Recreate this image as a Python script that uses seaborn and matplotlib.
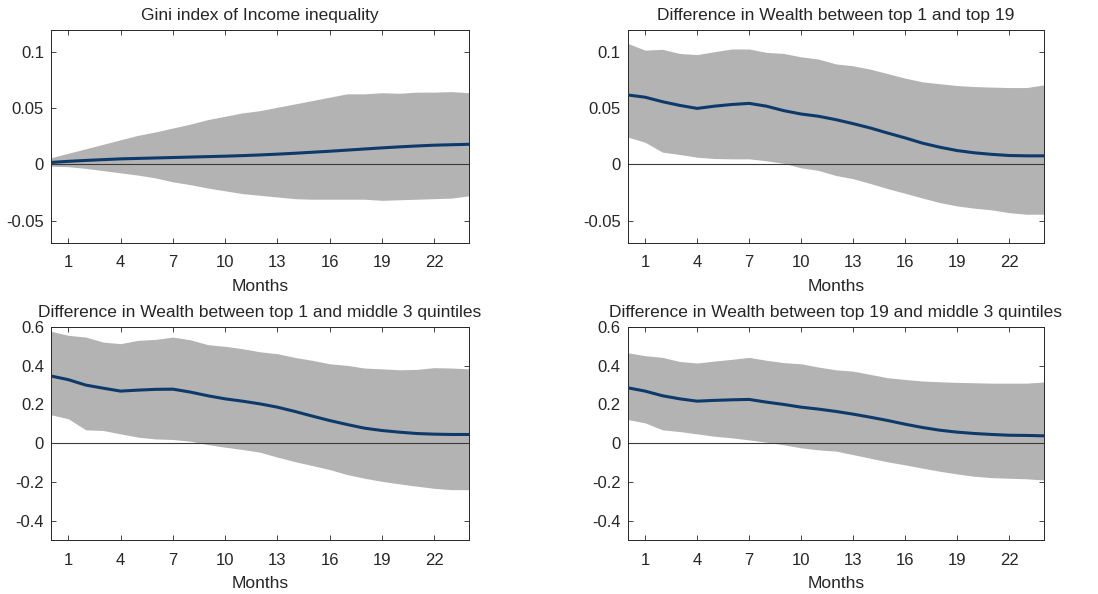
import numpy as np
import pandas as pd
import matplotlib
matplotlib.use("Agg")
import matplotlib.pyplot as plt
import seaborn as sns

# ==== data ====
months = list(range(0, 25))

gini_mean = [0.0018, 0.0028, 0.0036, 0.0043, 0.0050, 0.0054, 0.0058, 0.0062, 0.0066, 0.0070,
             0.0074, 0.0079, 0.0085, 0.0092, 0.0100, 0.0109, 0.0118, 0.0128, 0.0138, 0.0148,
             0.0157, 0.0165, 0.0172, 0.0176, 0.0180]
gini_up = [0.006, 0.010, 0.014, 0.018, 0.022, 0.026, 0.029, 0.0325, 0.036, 0.040,
           0.043, 0.046, 0.048, 0.051, 0.054, 0.057, 0.060, 0.063, 0.063, 0.064,
           0.0635, 0.0645, 0.0645, 0.065, 0.064]
gini_lo = [-0.0015, -0.002, -0.0035, -0.0055, -0.0075, -0.0095, -0.012, -0.0155, -0.018, -0.021,
           -0.0235, -0.026, -0.0275, -0.029, -0.0305, -0.031, -0.031, -0.031, -0.031, -0.032,
           -0.0315, -0.031, -0.0305, -0.030, -0.028]

t1t19_mean = [0.062, 0.060, 0.056, 0.0527, 0.050, 0.052, 0.0535, 0.0545, 0.052, 0.048,
              0.045, 0.043, 0.040, 0.0364, 0.0325, 0.028, 0.0237, 0.019, 0.0154, 0.0124,
              0.0104, 0.009, 0.008, 0.0077, 0.0077]
t1t19_up = [0.108, 0.102, 0.1027, 0.099, 0.098, 0.1006, 0.103, 0.103, 0.100, 0.099,
            0.096, 0.094, 0.0897, 0.088, 0.085, 0.081, 0.077, 0.0737, 0.072, 0.0704,
            0.0695, 0.069, 0.0686, 0.0686, 0.071]
t1t19_lo = [0.0245, 0.0198, 0.011, 0.0089, 0.0065, 0.0053, 0.005, 0.005, 0.0033, 0.001,
            -0.003, -0.0053, -0.0098, -0.0127, -0.017, -0.0216, -0.0257, -0.030, -0.034, -0.037,
            -0.039, -0.0405, -0.043, -0.0444, -0.0444]

t1m3_mean = [0.347, 0.328, 0.300, 0.284, 0.269, 0.274, 0.278, 0.279, 0.264, 0.245,
             0.229, 0.217, 0.203, 0.186, 0.164, 0.140, 0.117, 0.0965, 0.0776, 0.0655,
             0.057, 0.050, 0.0466, 0.045, 0.045]
t1m3_up = [0.578, 0.557, 0.548, 0.522, 0.514, 0.531, 0.536, 0.548, 0.534, 0.509,
           0.500, 0.488, 0.472, 0.462, 0.443, 0.428, 0.410, 0.402, 0.388, 0.384,
           0.379, 0.381, 0.390, 0.388, 0.384]
t1m3_lo = [0.147, 0.126, 0.069, 0.0655, 0.048, 0.031, 0.022, 0.019, 0.0103, -0.007,
           -0.0207, -0.0328, -0.0466, -0.072, -0.095, -0.1155, -0.136, -0.162, -0.181, -0.197,
           -0.210, -0.222, -0.233, -0.240, -0.240]

t19m3_mean = [0.286, 0.269, 0.245, 0.229, 0.217, 0.221, 0.224, 0.226, 0.212, 0.200,
              0.186, 0.176, 0.164, 0.150, 0.134, 0.117, 0.098, 0.081, 0.067, 0.057,
              0.050, 0.045, 0.041, 0.040, 0.038]
t19m3_up = [0.467, 0.452, 0.443, 0.422, 0.414, 0.424, 0.433, 0.443, 0.428, 0.416,
            0.410, 0.393, 0.379, 0.372, 0.355, 0.338, 0.329, 0.321, 0.317, 0.314,
            0.312, 0.310, 0.310, 0.310, 0.316]
t19m3_lo = [0.122, 0.105, 0.069, 0.060, 0.048, 0.036, 0.0276, 0.017, 0.005, -0.0086,
            -0.024, -0.0345, -0.041, -0.059, -0.078, -0.0966, -0.112, -0.129, -0.145, -0.159,
            -0.171, -0.178, -0.181, -0.184, -0.190]

titles = ['Gini index of Income inequality',
          'Difference in Wealth between top 1 and top 19',
          'Difference in Wealth between top 1 and middle 3 quintiles',
          'Difference in Wealth between top 19 and middle 3 quintiles']
xticks = [1, 4, 7, 10, 13, 16, 19, 22]

# ==== style ====
sns.set_theme(style='ticks')
plt.rcParams['font.family'] = ['Liberation Sans', 'DejaVu Sans']
plt.rcParams['xtick.direction'] = 'in'
plt.rcParams['ytick.direction'] = 'in'

band_col = '#b3b3b3'
line_col = '#0d3a6b'
txt_col = '#262626'

panels = [
    (gini_mean, gini_lo, gini_up, (-0.07, 0.12), [-0.05, 0, 0.05, 0.1], ['-0.05', '0', '0.05', '0.1']),
    (t1t19_mean, t1t19_lo, t1t19_up, (-0.07, 0.12), [-0.05, 0, 0.05, 0.1], ['-0.05', '0', '0.05', '0.1']),
    (t1m3_mean, t1m3_lo, t1m3_up, (-0.5, 0.6), [-0.4, -0.2, 0, 0.2, 0.4, 0.6], ['-0.4', '-0.2', '0', '0.2', '0.4', '0.6']),
    (t19m3_mean, t19m3_lo, t19m3_up, (-0.5, 0.6), [-0.4, -0.2, 0, 0.2, 0.4, 0.6], ['-0.4', '-0.2', '0', '0.2', '0.4', '0.6']),
]

positions = [[0.0464, 0.591, 0.3807, 0.3586],
             [0.5717, 0.591, 0.3790, 0.3586],
             [0.0464, 0.0909, 0.3807, 0.3586],
             [0.5717, 0.0909, 0.3790, 0.3586]]

fig = plt.figure(figsize=(10.98, 5.94), dpi=100)

for i, (mean, lo, up, ylim, yt, ytl) in enumerate(panels):
    ax = fig.add_axes(positions[i])
    df = pd.DataFrame({'month': months, 'mean': mean, 'lo': lo, 'up': up})
    ax.fill_between(df['month'], df['lo'], df['up'], color=band_col, linewidth=0, zorder=1)
    ax.axhline(0, color='#3a3a3a', linewidth=0.8, zorder=2)
    sns.lineplot(data=df, x='month', y='mean', ax=ax, color=line_col, linewidth=2.2, zorder=3)
    ax.set_xlim(0, 24)
    ax.set_ylim(*ylim)
    ax.set_xticks(xticks)
    ax.set_yticks(yt)
    ax.set_yticklabels(ytl)
    ax.set_ylabel('')
    ax.set_xlabel('Months', fontsize=12.5, color=txt_col, labelpad=6)
    ax.set_title(titles[i], fontsize=12.5, color=txt_col, pad=7)
    ax.tick_params(axis='both', which='both', top=True, right=True, length=3.5,
                   width=0.6, labelsize=12, colors=txt_col)
    ax.tick_params(axis='x', pad=9)
    ax.tick_params(axis='y', pad=5)
    for s in ax.spines.values():
        s.set_color(txt_col)
        s.set_linewidth(0.7)

fig.savefig('out.png', dpi=100)
